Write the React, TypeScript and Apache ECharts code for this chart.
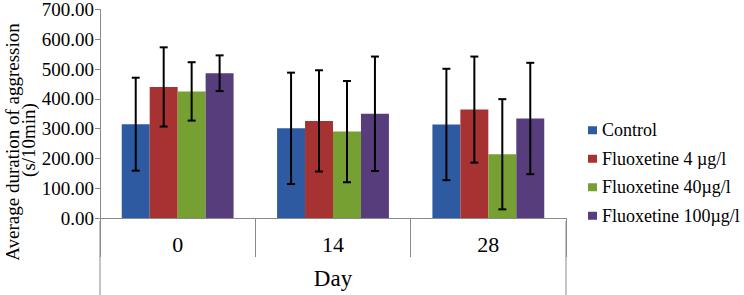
import React, { useEffect, useRef } from "react";
import * as echarts from "echarts";

const categories = ["0", "14", "28"];
const seriesNames = ["Control", "Fluoxetine 4 µg/l", "Fluoxetine 40µg/l", "Fluoxetine 100µg/l"];
const controlValues = [315, 301, 314];
const controlErrors = [156, 187, 187];
const fluox4Values = [440, 326, 364];
const fluox4Errors = [133, 170, 178];
const fluox40Values = [425, 290, 214];
const fluox40Errors = [98, 170, 185];
const fluox100Values = [486, 350, 334];
const fluox100Errors = [60, 192, 187];
const yTicks = [0, 100, 200, 300, 400, 500, 600, 700];

const colors = ["#2D5AA0", "#A63232", "#76A032", "#573D7C"];
const FONT = "Liberation Serif";

const GRID_LEFT = 100;
const GRID_RIGHT = 178;
const GRID_TOP = 6;
const GRID_BOTTOM = 74;
const W = 744;
const H = 295;
const CAT_GAP = 0.28;

export default function App() {
  const ref = useRef<HTMLDivElement>(null);
  useEffect(() => {
    document.body.style.margin = "0";
    if (!ref.current) return;
    const chart = echarts.init(ref.current, null, { renderer: "svg" });
    const values = [controlValues, fluox4Values, fluox40Values, fluox100Values];
    const errors = [controlErrors, fluox4Errors, fluox40Errors, fluox100Errors];
    const nSeries = values.length;

    const barSeries = values.map((v, i) => ({
      name: seriesNames[i],
      type: "bar",
      data: v,
      barGap: "0%",
      barCategoryGap: CAT_GAP * 100 + "%",
      itemStyle: { color: colors[i] },
      z: 2,
    }));

    const errSeries = values.map((v, i) => ({
      type: "custom",
      name: "err" + i,
      z: 5,
      silent: true,
      data: v.map((val, j) => [j, val - errors[i][j], val + errors[i][j]]),
      encode: { x: 0, y: [1, 2] },
      renderItem: (params: any, api: any) => {
        const xi = api.value(0);
        const lo = api.coord([xi, api.value(1)]);
        const hi = api.coord([xi, api.value(2)]);
        const band = api.size([1, 0])[0];
        const groupW = band * (1 - CAT_GAP);
        const barW = groupW / nSeries;
        const x = lo[0] - groupW / 2 + barW * (i + 0.5);
        const cap = 4;
        const style = { stroke: "#000", lineWidth: 2 };
        return {
          type: "group",
          children: [
            { type: "line", shape: { x1: x, y1: hi[1], x2: x, y2: lo[1] }, style },
            { type: "line", shape: { x1: x - cap, y1: hi[1], x2: x + cap, y2: hi[1] }, style },
            { type: "line", shape: { x1: x - cap, y1: lo[1], x2: x + cap, y2: lo[1] }, style },
          ],
        };
      },
    }));

    const plotBottom = H - GRID_BOTTOM;
    const plotRight = W - GRID_RIGHT;

    chart.setOption({
      animation: false,
      textStyle: { fontFamily: FONT },
      grid: { left: GRID_LEFT, right: GRID_RIGHT, top: GRID_TOP, bottom: GRID_BOTTOM },
      legend: {
        orient: "vertical",
        left: 583,
        top: 116,
        itemWidth: 9,
        itemHeight: 8,
        itemGap: 10,
        icon: "rect",
        data: seriesNames,
        textStyle: { fontFamily: FONT, fontSize: 18, color: "#000", lineHeight: 18.5 },
      },
      xAxis: {
        type: "category",
        data: categories,
        name: "Day",
        nameLocation: "middle",
        nameGap: 49,
        nameTextStyle: { fontFamily: FONT, fontSize: 23, color: "#000", verticalAlign: "top" },
        axisLine: { lineStyle: { color: "#8a8a8a", width: 1 } },
        axisTick: { show: true, length: 39, interval: 0, lineStyle: { color: "#8a8a8a" } },
        axisLabel: { fontFamily: FONT, fontSize: 22, color: "#000", margin: 15, interval: 0 },
      },
      yAxis: {
        type: "value",
        min: yTicks[0],
        max: yTicks[yTicks.length - 1],
        interval: 100,
        splitLine: { show: false },
        axisLine: { show: true, lineStyle: { color: "#8a8a8a", width: 1 } },
        axisTick: { show: true, length: 5, lineStyle: { color: "#8a8a8a" } },
        axisLabel: {
          fontFamily: FONT,
          fontSize: 19,
          color: "#000",
          margin: 6,
          formatter: (v: number) => v.toFixed(2),
        },
      },
      graphic: [
        {
          type: "line",
          shape: { x1: GRID_LEFT, y1: plotBottom, x2: GRID_LEFT, y2: H },
          style: { stroke: "#8a8a8a", lineWidth: 1 },
        },
        {
          type: "line",
          shape: { x1: plotRight, y1: plotBottom, x2: plotRight, y2: H },
          style: { stroke: "#8a8a8a", lineWidth: 1 },
        },
        {
          type: "text",
          x: 12,
          y: 142,
          rotation: Math.PI / 2,
          style: {
            text: "Average duration of aggression",
            fontFamily: FONT,
            fontSize: 19,
            fill: "#000",
            textAlign: "center",
            textVerticalAlign: "middle",
          },
        },
        {
          type: "text",
          x: 28,
          y: 140,
          rotation: Math.PI / 2,
          style: {
            text: "(s/10min)",
            fontFamily: FONT,
            fontSize: 19,
            fill: "#000",
            textAlign: "center",
            textVerticalAlign: "middle",
          },
        },
      ],
      series: [...barSeries, ...errSeries],
    });
    return () => chart.dispose();
  }, []);
  return <div ref={ref} style={{ width: W, height: H }} />;
}
